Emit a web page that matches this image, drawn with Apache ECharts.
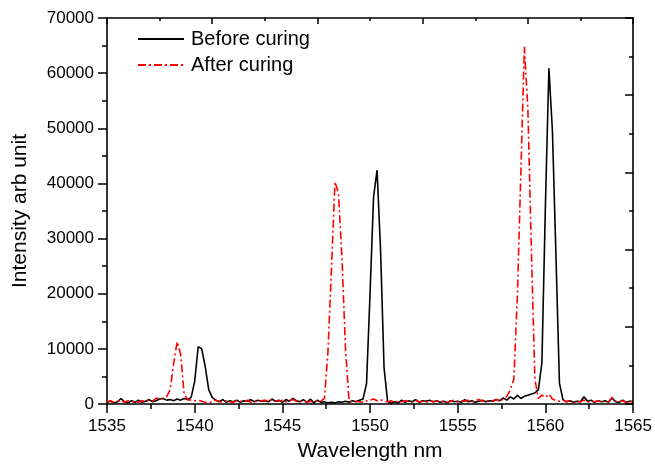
<!DOCTYPE html>
<html>
<head>
<meta charset="utf-8">
<script src="https://cdn.jsdelivr.net/npm/echarts@6/dist/echarts.min.js"></script>
<style>html,body{margin:0;padding:0;background:#fff;}#c{width:655px;height:468px;}</style>
</head>
<body>
<div id="c"></div>
<script>
const wavelengths = [
1535.0,1535.2,1535.4,1535.6,1535.8,1536.0,1536.2,1536.4,1536.6,1536.8,
1537.0,1537.2,1537.4,1537.6,1537.8,1538.0,1538.2,1538.4,1538.6,1538.8,
1539.0,1539.2,1539.4,1539.6,1539.8,1540.0,1540.2,1540.4,1540.6,1540.8,
1541.0,1541.2,1541.4,1541.6,1541.8,1542.0,1542.2,1542.4,1542.6,1542.8,
1543.0,1543.2,1543.4,1543.6,1543.8,1544.0,1544.2,1544.4,1544.6,1544.8,
1545.0,1545.2,1545.4,1545.6,1545.8,1546.0,1546.2,1546.4,1546.6,1546.8,
1547.0,1547.2,1547.4,1547.6,1547.8,1548.0,1548.2,1548.4,1548.6,1548.8,
1549.0,1549.2,1549.4,1549.6,1549.8,1550.0,1550.2,1550.4,1550.6,1550.8,
1551.0,1551.2,1551.4,1551.6,1551.8,1552.0,1552.2,1552.4,1552.6,1552.8,
1553.0,1553.2,1553.4,1553.6,1553.8,1554.0,1554.2,1554.4,1554.6,1554.8,
1555.0,1555.2,1555.4,1555.6,1555.8,1556.0,1556.2,1556.4,1556.6,1556.8,
1557.0,1557.2,1557.4,1557.6,1557.8,1558.0,1558.2,1558.4,1558.6,1558.8,
1559.0,1559.2,1559.4,1559.6,1559.8,1560.0,1560.2,1560.4,1560.6,1560.8,
1561.0,1561.2,1561.4,1561.6,1561.8,1562.0,1562.2,1562.4,1562.6,1562.8,
1563.0,1563.2,1563.4,1563.6,1563.8,1564.0,1564.2,1564.4,1564.6,1564.8,
1565.0
];
const beforeCuring = [
300,500,200,400,1000,400,200,600,300,700,
300,500,800,400,600,900,1000,700,800,600,
900,700,1000,800,1200,4100,10400,10000,6800,2600,
1200,700,400,800,300,600,400,700,300,600,
500,800,400,700,500,600,400,900,500,700,
300,800,500,1000,600,400,800,300,900,200,
700,300,400,200,300,200,400,300,500,300,
600,400,700,900,3700,20000,37500,42400,27900,6500,
500,100,400,200,700,300,600,400,800,300,
600,500,700,400,600,300,500,200,600,400,
500,300,800,400,600,300,500,700,400,600,
500,800,600,1100,700,1300,900,1600,1000,1400,
1600,1800,2000,2600,7500,36000,60900,49500,27000,3800,
800,400,600,300,500,400,1300,500,700,300,
600,400,600,300,1100,400,300,700,300,500,
400
];
const afterCuring = [
400,600,300,500,700,300,600,400,500,300,
600,400,700,500,1000,1100,1000,1300,2600,7300,
11300,9000,1800,800,700,600,700,500,300,200,
400,700,500,300,600,400,300,600,500,400,
700,300,500,400,600,700,500,800,600,500,
700,400,600,800,500,400,600,300,500,400,
600,500,1000,9500,24500,40300,38200,26500,10000,700,
300,500,400,300,600,700,900,600,800,500,
400,600,300,500,400,600,500,300,700,400,
500,300,600,400,500,600,400,300,500,700,
400,600,500,700,400,600,800,500,700,400,
600,800,500,900,1400,2600,4500,19500,42000,64800,
53500,28000,4500,1000,1600,1200,1800,900,600,500,
700,400,600,300,500,400,700,300,500,400,
600,300,500,400,1200,500,400,600,300,500,
400
];
const seriesNames = ['Before curing', 'After curing'];

const FONT = 'Liberation Sans, Arial, sans-serif';
const chart = echarts.init(document.getElementById('c'));
const pair = (ys) => wavelengths.map((x, i) => [x, ys[i]]);
const axisLine = { show: true, onZero: false, lineStyle: { color: '#000', width: 1.6 } };
const plain = (v) => String(v);

chart.setOption({
  animation: false,
  backgroundColor: '#fff',
  grid: { left: 107, right: 20, top: 18, bottom: 64 },
  legend: {
    data: seriesNames,
    orient: 'vertical',
    left: 137, top: 29, padding: 0,
    itemWidth: 46, itemHeight: 14, itemGap: 6,
    itemStyle: { opacity: 0 },
    textStyle: { color: '#000', fontSize: 20, fontFamily: FONT, lineHeight: 20, padding: [0, 0, 0, 2] }
  },
  xAxis: [
    {
      type: 'value', min: 1535, max: 1565, interval: 5, position: 'bottom',
      axisLine: axisLine,
      axisTick: { show: true, inside: false, length: 9, lineStyle: { color: '#000', width: 1.5 } },
      minorTick: { show: true, splitNumber: 2, length: 5, lineStyle: { color: '#000', width: 1.5 } },
      axisLabel: { color: '#000', fontSize: 17, fontFamily: FONT, margin: 14, formatter: plain },
      splitLine: { show: false },
      name: 'Wavelength nm', nameLocation: 'middle', nameGap: 37,
      nameTextStyle: { color: '#000', fontSize: 21, fontFamily: FONT }
    },
    {
      type: 'value', min: 0, max: 30, interval: 6, position: 'top',
      axisLine: axisLine,
      axisTick: { show: true, inside: true, length: 6, lineStyle: { color: '#000', width: 1.5 } },
      minorTick: { show: true, splitNumber: 2, length: 3, lineStyle: { color: '#000', width: 1.5 } },
      axisLabel: { show: false },
      splitLine: { show: false }
    }
  ],
  yAxis: [
    {
      type: 'value', min: 0, max: 70000, interval: 10000, position: 'left',
      axisLine: axisLine,
      axisTick: { show: true, inside: false, length: 9, lineStyle: { color: '#000', width: 1.5 } },
      minorTick: { show: true, splitNumber: 2, length: 5, lineStyle: { color: '#000', width: 1.5 } },
      axisLabel: { color: '#000', fontSize: 17, fontFamily: FONT, margin: 13, formatter: plain },
      splitLine: { show: false },
      name: 'Intensity arb unit', nameLocation: 'middle', nameGap: 76, nameRotate: 90,
      nameTextStyle: { color: '#000', fontSize: 21, fontFamily: FONT }
    },
    {
      type: 'value', min: 0, max: 70000, interval: 14000, position: 'right',
      axisLine: axisLine,
      axisTick: { show: true, inside: true, length: 8, lineStyle: { color: '#000', width: 1.5 } },
      minorTick: { show: true, splitNumber: 2, length: 4, lineStyle: { color: '#000', width: 1.5 } },
      axisLabel: { show: false },
      splitLine: { show: false }
    }
  ],
  series: [
    {
      name: seriesNames[0], type: 'line', xAxisIndex: 0, yAxisIndex: 0,
      data: pair(beforeCuring), symbol: 'none', showSymbol: false,
      lineStyle: { color: '#000', width: 1.6 }, itemStyle: { color: '#000' }
    },
    {
      name: seriesNames[1], type: 'line', xAxisIndex: 0, yAxisIndex: 0,
      data: pair(afterCuring), symbol: 'none', showSymbol: false,
      lineStyle: { color: '#ff0000', width: 1.6, type: [8, 3, 2, 3] }, itemStyle: { color: '#ff0000' }
    }
  ]
});
</script>
</body>
</html>
